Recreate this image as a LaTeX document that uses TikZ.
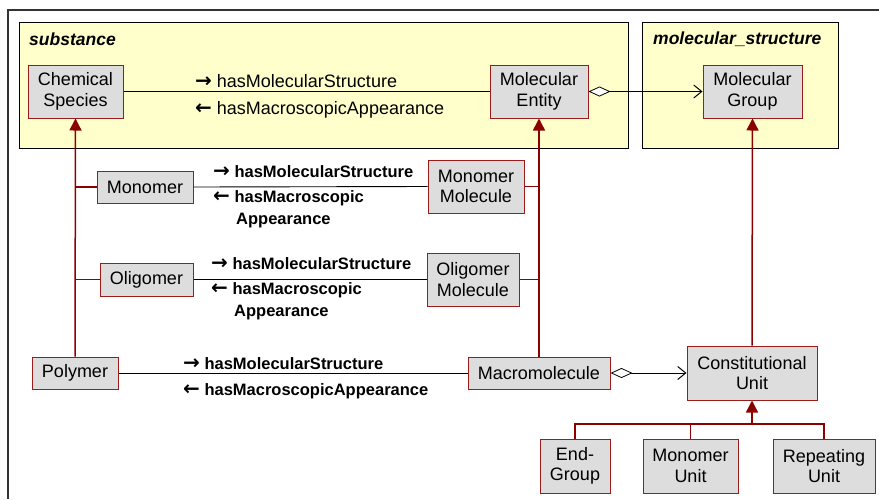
\documentclass[tikz,border=0pt]{standalone}
\usepackage{fontspec}
\setmainfont{Liberation Sans}
\newfontfamily\arrowfont{DejaVu Sans}
\newcommand{\rarr}{{\arrowfont\bfseries\fontsize{20}{20}\selectfont →}}
\newcommand{\larr}{{\arrowfont\bfseries\fontsize{20}{20}\selectfont ←}}
\usetikzlibrary{arrows.meta}
\definecolor{pkgfill}{HTML}{FFFFCC}
\definecolor{boxfill}{HTML}{DDDDDD}
\definecolor{boxline}{HTML}{9C1C1C}
\definecolor{genred}{HTML}{8B0000}
\definecolor{framegray}{HTML}{333333}
\tikzset{
  pkg/.style={draw=black, line width=0.9pt, fill=pkgfill, inner sep=0pt},
  pkgtitle/.style={anchor=west, inner sep=0pt, font=\fontsize{17.5}{20}\selectfont\bfseries\itshape},
  cls/.style={draw=boxline, line width=1pt, fill=boxfill, inner sep=0pt, align=center,
              font=\fontsize{18}{20.5}\selectfont},
  assoc/.style={draw=black, line width=0.9pt},
  genline/.style={draw=genred, line width=1.5pt},
  gen/.style={genline, -{Triangle[width=12pt,length=12pt]}},
  aggr/.style={assoc, {Diamond[open,fill=white,width=10pt,length=22pt,line width=0.8pt]}-{Straight Barb[length=8pt,width=13pt,line width=1pt]}},
  lblreg/.style={anchor=west, inner sep=0pt, font=\fontsize{18}{21}\selectfont},
  lblbold/.style={anchor=west, inner sep=0pt, align=left, font=\fontsize{16.5}{22}\selectfont\bfseries},
}
\begin{document}
\begin{tikzpicture}[x=1pt,y=-1pt]
\fill[white] (0,0) rectangle (879,499);
\useasboundingbox (0,0) rectangle (879,499);
% outer frame
\coordinate (fbl) at (8,499);
\coordinate (ftl) at (8,10);
\coordinate (ftr) at (879,10);
\draw[framegray, line width=1.2pt] (fbl) -- (ftl) -- (ftr);
% packages
\node[pkg, minimum width=609pt, minimum height=126pt] (substance) at (323.5,85) {};
\node[pkg, minimum width=196pt, minimum height=126pt] (molstruct) at (740,85) {};
\node[pkgtitle] (substitle) at (29,39) {substance};
\node[pkgtitle] (mstitle) at (653,39) {molecular\_structure};
% classes
\node[cls, minimum width=95pt, minimum height=53pt] (chem) at (75.5,91.5) {Chemical\\Species};
\node[cls, minimum width=98pt, minimum height=53pt] (molent) at (539,91.5) {Molecular\\Entity};
\node[cls, minimum width=99pt, minimum height=53pt] (molgroup) at (752.5,91.5) {Molecular\\Group};
\node[cls, minimum width=96pt, minimum height=32pt] (monomer) at (145,187) {Monomer};
\node[cls, minimum width=96pt, minimum height=53pt] (monomol) at (476,186.5) {Monomer\\Molecule};
\node[cls, minimum width=93pt, minimum height=33pt] (oligomer) at (146.5,279.5) {Oligomer};
\node[cls, minimum width=92pt, minimum height=53pt] (oligomol) at (473,279.5) {Oligomer\\Molecule};
\node[cls, minimum width=86pt, minimum height=32pt] (polymer) at (75,373) {Polymer};
\node[cls, minimum width=142pt, minimum height=32pt] (macro) at (539,373) {Macromolecule};
\node[cls, minimum width=130pt, minimum height=54pt] (cu) at (752,373) {Constitutional\\Unit};
\node[cls, minimum width=70pt, minimum height=54pt] (endgroup) at (575,466) {End-\\Group};
\node[cls, minimum width=95pt, minimum height=54pt] (monounit) at (690.5,466) {Monomer\\Unit};
\node[cls, minimum width=102pt, minimum height=54pt] (repunit) at (824,466) {Repeating\\Unit};
% associations
\draw[assoc] (chem.east) -- (molent.west);
\draw[assoc] (monomer.east) -- (monomol.west);
\draw[assoc] (oligomer.east) -- (oligomol.west);
\draw[assoc] (polymer.east) -- (macro.west);
\draw[aggr] (molent.east) -- (molgroup.west);
\draw[aggr] (macro.east) -- (cu.west);
% association labels
\node[lblreg] (l1a) at (195,81) {\rarr\ hasMolecularStructure};
\node[lblreg] (l1b) at (195,110) {\larr\ hasMacroscopicAppearance};
\node[lblbold] (l2a) at (213,172) {\rarr\ hasMolecularStructure};
\node[lblbold, anchor=north west] (l2b) at (213,190) {\larr\ hasMacroscopic\\\hspace*{23pt}Appearance};
\node[lblbold] (l3a) at (211,264) {\rarr\ hasMolecularStructure};
\node[lblbold, anchor=north west] (l3b) at (211,282) {\larr\ hasMacroscopic\\\hspace*{23pt}Appearance};
\node[lblbold] (l4a) at (183,364) {\rarr\ hasMolecularStructure};
\node[lblbold] (l4b) at (183,391) {\larr\ hasMacroscopicAppearance};
% generalizations
\draw[gen] (polymer.north) -- (chem.south);
\draw[genline] (monomer.west) -- (monomer.west -| chem.south);
\draw[genline] (oligomer.west) -- (oligomer.west -| chem.south);
\draw[gen] (macro.north) -- (molent.south);
\draw[genline] (monomol.east) -- (monomol.east -| molent.south);
\draw[genline] (oligomol.east) -- (oligomol.east -| molent.south);
\draw[gen] (cu.north) -- (molgroup.south);
\coordinate (bus) at (752,424);
\draw[genline] (endgroup.north) |- (bus -| repunit.north) -- (repunit.north);
\draw[genline] (monounit.north) -- (monounit.north |- bus);
\draw[gen] (bus) -- (cu.south);
\end{tikzpicture}
\end{document}
